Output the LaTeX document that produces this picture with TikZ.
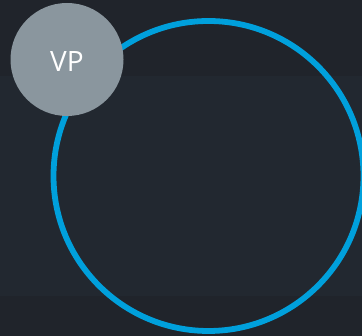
\documentclass[tikz,border=0pt]{standalone}
\usepackage{fontspec}
\setmainfont{Open Sans}
\definecolor{bgdark}{HTML}{20242B}
\definecolor{bgmid}{HTML}{222830}
\definecolor{ringblue}{HTML}{00A0DC}
\definecolor{vpgrey}{HTML}{8A969E}
\tikzset{
  ring/.style={circle, draw=ringblue, line width=5.8pt, minimum size=310pt, inner sep=0pt},
  vpnode/.style={circle, fill=vpgrey, minimum size=113pt, inner sep=0pt, text=white, font=\fontsize{28}{30}\selectfont}
}
\begin{document}
\begin{tikzpicture}[x=1pt,y=1pt]
\fill[bgdark] (0,0) rectangle (362,336);
\useasboundingbox (0,0) rectangle (362,336);
\fill[bgmid] (0,40) rectangle (362,260);
\node[ring] (ring) at (208.5,160) {};
\node[vpnode] (vp) at (67,276.5) {\raisebox{-2.5pt}[\height][0pt]{VP}};
\end{tikzpicture}
\end{document}
